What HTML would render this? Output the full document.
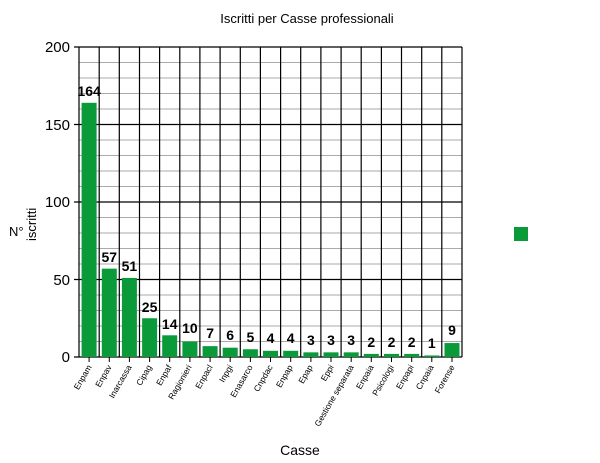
<!DOCTYPE html>
<html><head><meta charset="utf-8"><style>body{margin:0;background:#fff}svg{display:block}text{font-family:"Liberation Sans",sans-serif}</style></head><body>
<svg width="600" height="463" xmlns="http://www.w3.org/2000/svg">
<rect width="600" height="463" fill="#fff"/>
<text x="307" y="23" font-size="13" text-anchor="middle">Iscritti per Casse professionali</text>
<g stroke="#aaa" stroke-width="1">
<line x1="79" x2="462" y1="62.5" y2="62.5"/><line x1="79" x2="462" y1="78" y2="78"/><line x1="79" x2="462" y1="93.5" y2="93.5"/><line x1="79" x2="462" y1="109" y2="109"/>
<line x1="79" x2="462" y1="140" y2="140"/><line x1="79" x2="462" y1="155.5" y2="155.5"/><line x1="79" x2="462" y1="171" y2="171"/><line x1="79" x2="462" y1="186.5" y2="186.5"/>
<line x1="79" x2="462" y1="217.5" y2="217.5"/><line x1="79" x2="462" y1="233" y2="233"/><line x1="79" x2="462" y1="248.5" y2="248.5"/><line x1="79" x2="462" y1="264" y2="264"/>
<line x1="79" x2="462" y1="295" y2="295"/><line x1="79" x2="462" y1="310.5" y2="310.5"/><line x1="79" x2="462" y1="326" y2="326"/><line x1="79" x2="462" y1="341.5" y2="341.5"/>
</g>
<g stroke="#000" stroke-width="1.2">
<line x1="74" x2="462" y1="47" y2="47"/><line x1="74" x2="462" y1="124.5" y2="124.5"/><line x1="74" x2="462" y1="202" y2="202"/><line x1="74" x2="462" y1="279.5" y2="279.5"/><line x1="74" x2="462" y1="357" y2="357"/>
<line x1="79.0" x2="79.0" y1="47" y2="357"/><line x1="99.2" x2="99.2" y1="47" y2="357"/><line x1="119.3" x2="119.3" y1="47" y2="357"/><line x1="139.5" x2="139.5" y1="47" y2="357"/><line x1="159.6" x2="159.6" y1="47" y2="357"/><line x1="179.8" x2="179.8" y1="47" y2="357"/><line x1="199.9" x2="199.9" y1="47" y2="357"/><line x1="220.1" x2="220.1" y1="47" y2="357"/><line x1="240.3" x2="240.3" y1="47" y2="357"/><line x1="260.4" x2="260.4" y1="47" y2="357"/><line x1="280.6" x2="280.6" y1="47" y2="357"/><line x1="300.7" x2="300.7" y1="47" y2="357"/><line x1="320.9" x2="320.9" y1="47" y2="357"/><line x1="341.1" x2="341.1" y1="47" y2="357"/><line x1="361.2" x2="361.2" y1="47" y2="357"/><line x1="381.4" x2="381.4" y1="47" y2="357"/><line x1="401.5" x2="401.5" y1="47" y2="357"/><line x1="421.7" x2="421.7" y1="47" y2="357"/><line x1="441.8" x2="441.8" y1="47" y2="357"/><line x1="462" x2="462" y1="47" y2="357"/>
</g>
<g font-size="15" text-anchor="end"><text x="70" y="52">200</text><text x="70" y="130">150</text><text x="70" y="207">100</text><text x="70" y="285">50</text><text x="70" y="362">0</text></g>
<text x="9" y="236" font-size="13">N°</text><text transform="translate(36,241) rotate(-90)" font-size="13">iscritti</text>
<text x="300" y="455" font-size="14" text-anchor="middle">Casse</text>
<rect x="514" y="227" width="14" height="14" fill="#0a9a3a"/>
<g fill="#0a9a3a">
<rect x="81.6" y="102.8" width="15" height="254.2"/>
<rect x="101.8" y="268.65" width="15" height="88.35"/>
<rect x="121.9" y="277.95" width="15" height="79.05"/>
<rect x="142.1" y="318.25" width="15" height="38.75"/>
<rect x="162.2" y="335.3" width="15" height="21.7"/>
<rect x="182.4" y="341.5" width="15" height="15.5"/>
<rect x="202.6" y="346.15" width="15" height="10.85"/>
<rect x="222.7" y="347.7" width="15" height="9.3"/>
<rect x="242.9" y="349.25" width="15" height="7.75"/>
<rect x="263.0" y="350.8" width="15" height="6.2"/>
<rect x="283.2" y="350.8" width="15" height="6.2"/>
<rect x="303.4" y="352.35" width="15" height="4.65"/>
<rect x="323.5" y="352.35" width="15" height="4.65"/>
<rect x="343.7" y="352.35" width="15" height="4.65"/>
<rect x="363.8" y="353.9" width="15" height="3.1"/>
<rect x="384.0" y="353.9" width="15" height="3.1"/>
<rect x="404.2" y="353.9" width="15" height="3.1"/>
<rect x="424.3" y="355.45" width="15" height="1.55"/>
<rect x="444.5" y="343.05" width="15" height="13.95"/>
</g>
<g font-size="14" font-weight="bold" text-anchor="middle">
<text x="89.1" y="96">164</text>
<text x="109.3" y="262">57</text>
<text x="129.4" y="271">51</text>
<text x="149.6" y="312">25</text>
<text x="169.7" y="329">14</text>
<text x="189.9" y="333">10</text>
<text x="210.1" y="338">7</text>
<text x="230.2" y="340">6</text>
<text x="250.4" y="342">5</text>
<text x="270.5" y="343">4</text>
<text x="290.7" y="343">4</text>
<text x="310.9" y="345">3</text>
<text x="331.0" y="345">3</text>
<text x="351.2" y="345">3</text>
<text x="371.3" y="347">2</text>
<text x="391.5" y="347">2</text>
<text x="411.7" y="347">2</text>
<text x="431.8" y="348">1</text>
<text x="452.0" y="335">9</text>
</g>
<g stroke="#000">
<line x1="89.1" x2="89.1" y1="357" y2="362"/><line x1="109.3" x2="109.3" y1="357" y2="362"/><line x1="129.4" x2="129.4" y1="357" y2="362"/><line x1="149.6" x2="149.6" y1="357" y2="362"/><line x1="169.7" x2="169.7" y1="357" y2="362"/><line x1="189.9" x2="189.9" y1="357" y2="362"/><line x1="210.1" x2="210.1" y1="357" y2="362"/><line x1="230.2" x2="230.2" y1="357" y2="362"/><line x1="250.4" x2="250.4" y1="357" y2="362"/><line x1="270.5" x2="270.5" y1="357" y2="362"/><line x1="290.7" x2="290.7" y1="357" y2="362"/><line x1="310.9" x2="310.9" y1="357" y2="362"/><line x1="331.0" x2="331.0" y1="357" y2="362"/><line x1="351.2" x2="351.2" y1="357" y2="362"/><line x1="371.3" x2="371.3" y1="357" y2="362"/><line x1="391.5" x2="391.5" y1="357" y2="362"/><line x1="411.7" x2="411.7" y1="357" y2="362"/><line x1="431.8" x2="431.8" y1="357" y2="362"/><line x1="452.0" x2="452.0" y1="357" y2="362"/>
</g>
<g font-size="8.5" text-anchor="end">
<text transform="translate(92,367) rotate(-60)">Enpam</text>
<text transform="translate(112,367) rotate(-60)">Enpav</text>
<text transform="translate(132,367) rotate(-60)">Inarcassa</text>
<text transform="translate(152,367) rotate(-60)">Cipag</text>
<text transform="translate(172,367) rotate(-60)">Enpaf</text>
<text transform="translate(192,367) rotate(-60)">Ragionieri</text>
<text transform="translate(213,367) rotate(-60)">Enpacl</text>
<text transform="translate(233,367) rotate(-60)">Inpgi</text>
<text transform="translate(253,367) rotate(-60)">Enasarco</text>
<text transform="translate(273,367) rotate(-60)">Cnpdac</text>
<text transform="translate(293,367) rotate(-60)">Enpap</text>
<text transform="translate(313,367) rotate(-60)">Epap</text>
<text transform="translate(334,367) rotate(-60)">Eppi</text>
<text transform="translate(354,367) rotate(-60)">Gestione separata</text>
<text transform="translate(374,367) rotate(-60)">Enpaia</text>
<text transform="translate(394,367) rotate(-60)">Psicologi</text>
<text transform="translate(414,367) rotate(-60)">Enpapi</text>
<text transform="translate(434,367) rotate(-60)">Cnpaia</text>
<text transform="translate(455,367) rotate(-60)">Forense</text>
</g>
</svg>
</body></html>
